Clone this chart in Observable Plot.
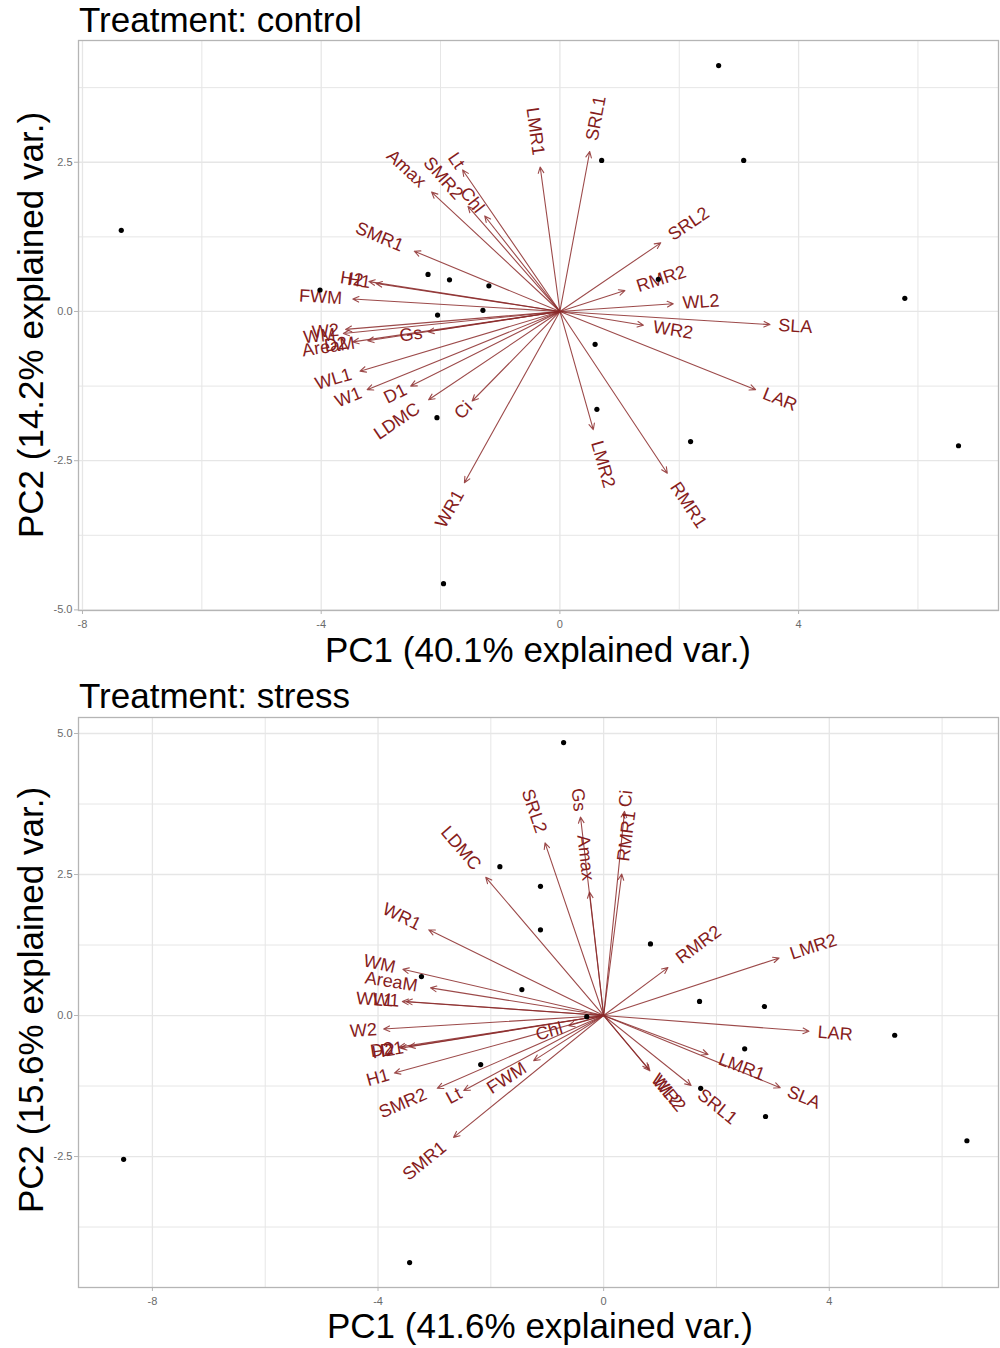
<!DOCTYPE html>
<html>
<head>
<meta charset="utf-8">
<script src="https://cdn.jsdelivr.net/npm/d3@7"></script>
<script src="https://cdn.jsdelivr.net/npm/@observablehq/plot@0.6"></script>
<style>
  body { margin: 0; background: #fff; }
  #wrap { position: relative; width: 1000px; height: 1348px; overflow: hidden; background: #fff;
          font-family: "Liberation Sans", Arial, sans-serif; }
  #wrap > svg { position: absolute; left: 0; }
  #overlay { top: 0; pointer-events: none; }
</style>
</head>
<body>
<div id="wrap">
  <svg id="overlay" width="1000" height="1348" style="z-index:2">
    <g font-family="'Liberation Sans', Arial, sans-serif" font-size="35" fill="#000">
      <text x="79" y="32">Treatment: control</text>
      <text x="538" y="662" text-anchor="middle">PC1 (40.1% explained var.)</text>
      <text transform="translate(43,325) rotate(-90)" text-anchor="middle">PC2 (14.2% explained var.)</text>
      <text x="79" y="708">Treatment: stress</text>
      <text x="540" y="1338" text-anchor="middle">PC1 (41.6% explained var.)</text>
      <text transform="translate(43,1000) rotate(-90)" text-anchor="middle">PC2 (15.6% explained var.)</text>
    </g>
  </svg>
</div>
<script>
// ---------- Treatment: control ----------
const controlVars = ["LMR1","SRL1","Lt","Amax","SMR2","Chl","SMR1","H2","H1","FWM","W2","WM","D2","AreaM","Gs",
                     "WL1","W1","D1","LDMC","Ci","WR1","LMR2","RMR1","LAR","SLA","WR2","WL2","RMR2","SRL2"];
const controlPC1 = [-0.33, 0.50, -1.63, -2.15, -1.54, -1.26, -2.44, -3.20, -3.08, -3.47, -3.59, -3.63, -3.47, -3.22, -2.21,
                    -3.35, -3.23, -2.50, -2.20, -1.47, -1.60, 0.56, 1.80, 3.28, 3.52, 1.40, 1.90, 1.09, 1.69];
const controlPC2 = [2.42, 2.68, 2.37, 2.00, 1.76, 1.60, 1.01, 0.50, 0.47, 0.21, -0.30, -0.37, -0.51, -0.49, -0.34,
                    -1.00, -1.31, -1.25, -1.48, -1.50, -2.87, -1.98, -2.71, -1.31, -0.22, -0.23, 0.13, 0.35, 1.15];
const controlObsPC1 = [2.66, 0.70, 3.08, -7.35, -2.21, -1.85, -1.19, -4.02, -2.05, -1.29, 5.78, 1.65, 0.59, 0.62, -2.06, 2.19, 6.68, -1.95];
const controlObsPC2 = [4.12, 2.53, 2.53, 1.36, 0.62, 0.53, 0.43, 0.36, -0.06, 0.02, 0.22, 0.54, -0.55, -1.64, -1.78, -2.18, -2.25, -4.56];
const controlXTicks = [-8, -4, 0, 4];
const controlYTicks = [-5, -2.5, 0, 2.5];

// ---------- Treatment: stress ----------
const stressVars = ["LDMC","SRL2","Gs","Amax","RMR1","Ci","WR1","WM","AreaM","WL1","W1","W2","D2","H2","D1","H1",
                    "SMR2","Lt","FWM","Chl","SMR1","RMR2","LMR2","LAR","LMR1","SLA","SRL1","WR2","WL2"];
const stressPC1 = [-2.09, -1.04, -0.41, -0.25, 0.32, 0.37, -3.10, -3.56, -3.07, -3.57, -3.50, -3.90, -3.63, -3.60, -3.45, -3.71,
                   -2.95, -2.48, -1.24, -0.62, -2.66, 1.14, 3.11, 3.64, 1.85, 3.13, 1.55, 0.82, 0.80];
const stressPC2 = [2.45, 3.06, 3.52, 2.19, 2.51, 3.62, 1.52, 0.82, 0.49, 0.25, 0.25, -0.24, -0.56, -0.58, -0.55, -1.02,
                   -1.29, -1.33, -0.80, -0.18, -2.16, 0.85, 1.02, -0.28, -0.69, -1.28, -1.24, -0.98, -0.95];
const stressObsPC1 = [-0.71, -1.84, -1.12, -1.12, 0.83, -3.23, -1.45, -0.30, 1.70, 2.85, 5.16, 2.50, -2.18, 1.72, 2.87, 6.44, -8.51, -3.44];
const stressObsPC2 = [4.84, 2.64, 2.29, 1.52, 1.27, 0.69, 0.46, -0.02, 0.25, 0.16, -0.35, -0.59, -0.87, -1.29, -1.79, -2.22, -2.55, -4.38];
const stressXTicks = [-8, -4, 0, 4];
const stressYTicks = [-2.5, 0, 2.5, 5];

const FONT = "'Liberation Sans', Arial, sans-serif";
const LABEL_SIZE = 18;
const ARROW_COLOR = "#8b2a2a";
const LABEL_COLOR = "#861c1c";

function biplot({vars, pc1, pc2, obs1, obs2, xDomain, yDomain, xTicks, yTicks}) {
  const W = 1000, H = 640, mL = 78, mR = 2, mT = 40, mB = 30;
  const k = (W - mL - mR) / (xDomain[1] - xDomain[0]); // px per unit
  const ctx = document.createElement("canvas").getContext("2d");
  ctx.font = `${LABEL_SIZE}px ${FONT}`;
  const arrows = vars.map((name, i) => {
    const x = pc1[i], y = pc2[i];
    const len = Math.hypot(x, y);
    const g = 0.25 * ctx.measureText(name).width / k;
    return {name, x, y, lx: x + x / len * g, ly: y + y / len * g,
            rot: -Math.atan(y / x) * 180 / Math.PI};
  });
  const pts = obs1.map((x, i) => ({x, y: obs2[i]}));
  const xMinor = d3.range(Math.ceil(xDomain[0] / 2) * 2, xDomain[1], 2)
                   .filter(v => !xTicks.includes(v) && v > xDomain[0] && v < xDomain[1]);
  const yStep = yTicks[1] - yTicks[0];
  const yMinor = d3.range(Math.ceil(yDomain[0] / yStep) * yStep - yStep / 2, yDomain[1], yStep)
                   .filter(v => v > yDomain[0] && v < yDomain[1]);
  const grid = "#e6e6e6";
  return Plot.plot({
    width: W, height: H,
    marginLeft: mL, marginRight: mR, marginTop: mT, marginBottom: mB,
    style: {fontFamily: FONT, background: "transparent"},
    x: {domain: xDomain, label: null},
    y: {domain: yDomain, label: null},
    marks: [
      Plot.ruleX(xMinor, {stroke: grid, strokeWidth: 1}),
      Plot.ruleY(yMinor, {stroke: grid, strokeWidth: 1}),
      Plot.ruleX(xTicks, {stroke: grid, strokeWidth: 1.3}),
      Plot.ruleY(yTicks, {stroke: grid, strokeWidth: 1.3}),
      Plot.frame({stroke: "#b5b5b5", strokeWidth: 1.3}),
      Plot.axisX({ticks: xTicks, tickFormat: d => String(d), tickSize: 4, tickPadding: 6,
                  stroke: "#b5b5b5", fill: "#6a6a6a", fontSize: 11, label: null}),
      Plot.axisY({ticks: yTicks, tickFormat: d => d.toFixed(1), tickSize: 4, tickPadding: 2,
                  stroke: "#b5b5b5", fill: "#6a6a6a", fontSize: 11, label: null}),
      Plot.arrow(arrows, {x1: () => 0, y1: () => 0, x2: "x", y2: "y",
                          stroke: ARROW_COLOR, strokeOpacity: 0.85, strokeWidth: 1.1,
                          headLength: 9, headAngle: 50}),
      Plot.text(arrows.filter(d => d.x < 0), {x: "lx", y: "ly", text: "name", rotate: "rot",
                          textAnchor: "end", fill: LABEL_COLOR, fontSize: LABEL_SIZE, fontFamily: FONT}),
      Plot.text(arrows.filter(d => d.x >= 0), {x: "lx", y: "ly", text: "name", rotate: "rot",
                          textAnchor: "start", fill: LABEL_COLOR, fontSize: LABEL_SIZE, fontFamily: FONT}),
      Plot.dot(pts, {x: "x", y: "y", r: 2.6, fill: "black", stroke: null})
    ]
  });
}

const wrap = document.getElementById("wrap");
const p1 = biplot({vars: controlVars, pc1: controlPC1, pc2: controlPC2, obs1: controlObsPC1, obs2: controlObsPC2,
                   xDomain: [-8.067, 7.35], yDomain: [-5.01, 4.54], xTicks: controlXTicks, yTicks: controlYTicks});
p1.style.top = "0px";
wrap.appendChild(p1);
const p2 = biplot({vars: stressVars, pc1: stressPC1, pc2: stressPC2, obs1: stressObsPC1, obs2: stressObsPC2,
                   xDomain: [-9.31, 7.0], yDomain: [-4.822, 5.284], xTicks: stressXTicks, yTicks: stressYTicks});
p2.style.top = "677px";
wrap.appendChild(p2);
</script>
</body>
</html>
